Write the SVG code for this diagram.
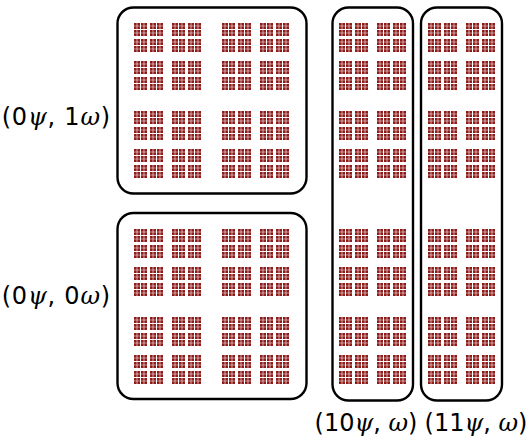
<svg xmlns="http://www.w3.org/2000/svg" xmlns:xlink="http://www.w3.org/1999/xlink" width="530" height="438" viewBox="0 0 530 438">
<style>
.box{fill:#fff;stroke:#000;stroke-width:2.4}
.m{fill:#8e1a1a}
.lbl{font-family:"DejaVu Sans",sans-serif;font-size:24px;letter-spacing:0.8px;fill:#000}
.lb{letter-spacing:0}
.g{font-family:"DejaVu Serif",serif;font-style:italic}
</style>
<defs>
<path id="c" class="m" d="M0 0h2.7v2.7h-2.7zM3.3 0h2.7v2.7h-2.7zM7 0h2.7v2.7h-2.7zM10.3 0h2.7v2.7h-2.7zM0 3.3h2.7v2.7h-2.7zM3.3 3.3h2.7v2.7h-2.7zM7 3.3h2.7v2.7h-2.7zM10.3 3.3h2.7v2.7h-2.7zM0 7h2.7v2.7h-2.7zM3.3 7h2.7v2.7h-2.7zM7 7h2.7v2.7h-2.7zM10.3 7h2.7v2.7h-2.7zM0 10.3h2.7v2.7h-2.7zM3.3 10.3h2.7v2.7h-2.7zM7 10.3h2.7v2.7h-2.7zM10.3 10.3h2.7v2.7h-2.7z"/>
<g id="p"><use xlink:href="#c"/><use xlink:href="#c" x="16"/><use xlink:href="#c" y="16"/><use xlink:href="#c" x="16" y="16"/></g>
<g id="q"><use xlink:href="#p"/><use xlink:href="#p" x="38"/><use xlink:href="#p" y="38"/><use xlink:href="#p" x="38" y="38"/></g>
<g id="h"><use xlink:href="#q"/><use xlink:href="#q" x="88"/><use xlink:href="#q" y="88"/><use xlink:href="#q" x="88" y="88"/></g>
<g id="v"><use xlink:href="#q"/><use xlink:href="#q" y="88"/></g>
</defs>
<rect width="530" height="438" fill="#fff"/>
<g id="node-0psi-1omega">
<rect class="box" x="117.5" y="7.5" width="189" height="186" rx="16"/>
<use xlink:href="#h" x="134" y="23"/>
<text class="lbl" x="111" y="125" text-anchor="end">(0<tspan class="g">ψ</tspan>, 1<tspan class="g">ω</tspan>)</text>
</g>
<g id="node-0psi-0omega">
<rect class="box" x="117.5" y="213" width="189" height="186" rx="16"/>
<use xlink:href="#h" x="134" y="229"/>
<text class="lbl" x="111" y="304" text-anchor="end">(0<tspan class="g">ψ</tspan>, 0<tspan class="g">ω</tspan>)</text>
</g>
<g id="node-10psi-omega">
<rect class="box" x="332.5" y="7.5" width="80.5" height="393" rx="16"/>
<use xlink:href="#v" x="339" y="23"/>
<use xlink:href="#v" x="339" y="229"/>
<text class="lbl lb" x="366" y="431" text-anchor="middle">(10<tspan class="g">ψ</tspan>, <tspan class="g">ω</tspan>)</text>
</g>
<g id="node-11psi-omega">
<rect class="box" x="421" y="7.5" width="81" height="393" rx="16"/>
<use xlink:href="#v" x="428" y="23"/>
<use xlink:href="#v" x="428" y="229"/>
<text class="lbl lb" x="476" y="431" text-anchor="middle">(11<tspan class="g">ψ</tspan>, <tspan class="g">ω</tspan>)</text>
</g>
</svg>
